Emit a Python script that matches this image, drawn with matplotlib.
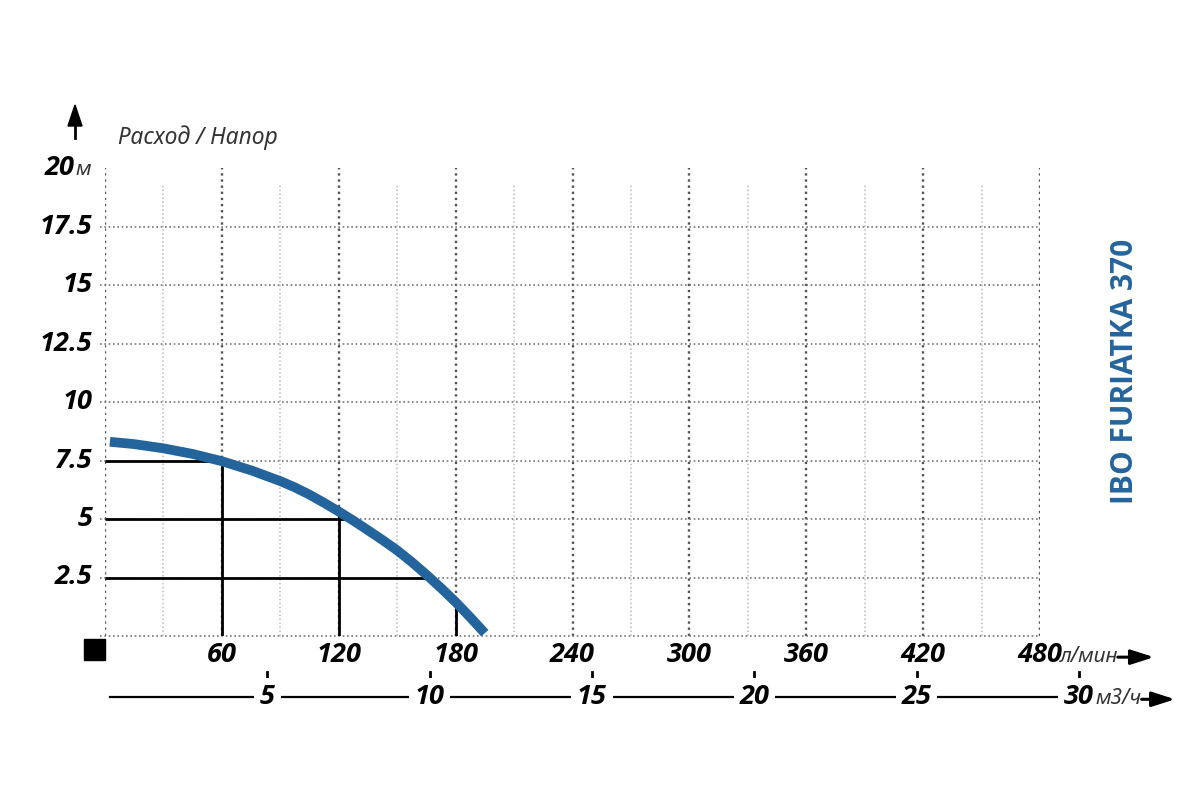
import numpy as np
import matplotlib.pyplot as plt
import matplotlib.transforms as mtransforms
from matplotlib.text import OffsetFrom

# pump curve (flow l/min, head m)
flow = [2.5, 15, 30, 45, 60, 75, 90, 97.5, 105, 112.5, 120, 127.5, 135, 142.5,
        150, 157.5, 165, 172.5, 180, 187.5, 195]
head = [8.3, 8.2, 8.02, 7.78, 7.47, 7.08, 6.62, 6.35, 6.04, 5.69, 5.32, 4.93, 4.52, 4.1,
        3.66, 3.16, 2.62, 2.05, 1.45, 0.8, 0.12]

# reading guides
guide_q = [60, 120, 180]
guide_q_head = [7.5, 5.3, 1.6]
guide_h = [7.5, 5, 2.5]
guide_h_flow = [57, 125, 165]

lpm_ticks = [60, 120, 180, 240, 300, 360, 420, 480]
m3h_ticks = [5, 10, 15, 20, 25, 30]
head_ticks = [2.5, 5, 7.5, 10, 12.5, 15, 17.5]
head_labels = ["2.5", "5", "7.5", "10", "12.5", "15", "17.5"]

blue = "#24649c"
numfont = dict(family="Open Sans", fontweight="bold", fontstyle="italic", fontsize=19.5)
unitfont = dict(family="Noto Sans", fontstyle="italic", fontsize=15, color="#333333")

fig = plt.figure(figsize=(12, 8), dpi=100)
ax = fig.add_axes([105/1200, 1 - 636/800, 935/1200, 468/800])
ax.set_xlim(0, 480)
ax.set_ylim(0, 20)
for s in ax.spines.values():
    s.set_visible(False)
ax.set_xticks([])
ax.set_yticks([])

# dotted grid
dots = (0, (1, 1.6))
ax.vlines(np.arange(30, 480, 60), 0, 19.3, colors="#bbbbbb", lw=1.1, linestyles=dots, zorder=1)
ax.vlines(np.arange(0, 481, 60), 0, 20, colors="#555555", lw=1.7, linestyles=dots, zorder=1)
ax.hlines(np.arange(0, 17.6, 2.5), -2.5, 480, colors="#777777", lw=1.2, linestyles=dots,
          zorder=1, clip_on=False)

# guide lines
ax.vlines(guide_q, 0, guide_q_head, colors="black", lw=2, zorder=2)
ax.hlines(guide_h, 0, guide_h_flow, colors="black", lw=2, zorder=2)

# pump curve
ax.plot(flow, head, color=blue, lw=7, solid_capstyle="butt", solid_joinstyle="round", zorder=3)

# head labels
for v, lab in zip(head_ticks, head_labels):
    ax.annotate(lab, xy=(0, v), xycoords=("axes fraction", "data"), xytext=(-9, 0),
                textcoords="offset points", ha="right", va="center", **numfont)
ax.annotate("20", xy=(0, 20), xycoords=("axes fraction", "data"), xytext=(-22, 0),
            textcoords="offset points", ha="right", va="center", **numfont)
ax.annotate("м", xy=(0, 20), xycoords=("axes fraction", "data"), xytext=(-10, -1),
            textcoords="offset points", ha="right", va="center", **unitfont)

# vertical axis arrow and title
fig.patches.append(plt.Polygon([[75/1200, 1 - 105/800], [68/1200, 1 - 126/800], [82/1200, 1 - 126/800]],
                               closed=True, color="black", transform=fig.transFigure))
fig.add_artist(plt.Line2D([75/1200, 75/1200], [1 - 138/800, 1 - 120/800], color="black", lw=2))
fig.text(118/1200, 1 - 138/800, "Расход / Напор", ha="left", va="center",
         family="Noto Sans", fontstyle="italic", fontsize=16.5, color="#333333")

# black square at origin
fig.patches.append(plt.Rectangle((84/1200, 1 - 660/800), 21/1200, 21/800, color="black",
                                 transform=fig.transFigure))

arrow = dict(arrowstyle="-|>,head_length=1.4,head_width=0.45", color="black", lw=2.2,
             shrinkA=0, shrinkB=0)

# l/min axis
bt = mtransforms.blended_transform_factory(ax.transData, ax.transAxes)
for q in lpm_ticks:
    ax.text(q, -0.04, str(q), transform=bt, ha="center", va="center", **numfont)
t1 = ax.annotate("л/мин", xy=(480, -0.04), xycoords=bt, xytext=(14, -1), textcoords="offset points",
                 ha="left", va="center", **unitfont)
ax.annotate("", xy=(26, 0), xycoords=OffsetFrom(t1, (1, 0.45)),
            xytext=(0, 0), textcoords=OffsetFrom(t1, (1, 0.45)), arrowprops=arrow)

# m3/h axis
ax.plot([2.5, 495], [-0.13, -0.13], transform=bt, color="black", lw=1.6, clip_on=False)
for m in m3h_ticks:
    q = m * 1000 / 60
    ax.text(q, -0.13, str(m), transform=bt, ha="center", va="center",
            bbox=dict(facecolor="white", edgecolor="none", pad=4), **numfont)
    ax.plot([q, q], [-0.077, -0.095], transform=bt, color="black", lw=2, clip_on=False)
t2 = ax.annotate("м3/ч", xy=(500, -0.13), xycoords=bt, xytext=(12, -1), textcoords="offset points",
                 ha="left", va="center", **unitfont)
ax.annotate("", xy=(24, 0), xycoords=OffsetFrom(t2, (1, 0.45)),
            xytext=(0, 0), textcoords=OffsetFrom(t2, (1, 0.45)), arrowprops=arrow)

# model name
fig.text(1125/1200, 1 - 371/800, "IBO FURIATKA 370", rotation=90, ha="center", va="center",
         family="Open Sans", fontweight="bold", fontsize=21.5, color=blue)

fig.savefig("out.png", dpi=100)
